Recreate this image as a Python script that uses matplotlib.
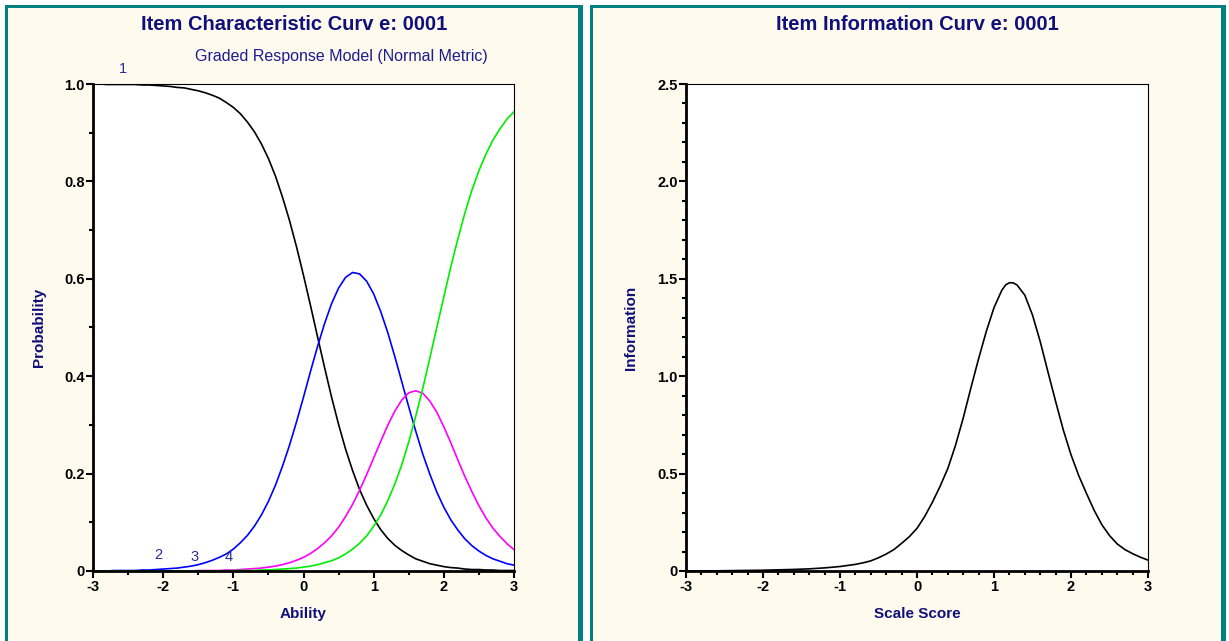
import numpy as np
import matplotlib
matplotlib.use("Agg")
import matplotlib.pyplot as plt
from matplotlib.patches import Rectangle
from matplotlib.ticker import MultipleLocator

# ability grid for the category curves (-3 .. 3, step 0.1)
theta = np.linspace(-3, 3, 61)

cat1 = [1.000, 1.000, 0.999, 0.999, 0.999, 0.999, 0.999, 0.998, 0.998, 0.997,
        0.996, 0.995, 0.993, 0.992, 0.989, 0.986, 0.982, 0.977, 0.971, 0.962,
        0.952, 0.939, 0.922, 0.902, 0.877, 0.847, 0.811, 0.768, 0.720, 0.666,
        0.607, 0.545, 0.481, 0.418, 0.357, 0.301, 0.250, 0.206, 0.167, 0.135,
        0.108, 0.085, 0.067, 0.053, 0.042, 0.033, 0.025, 0.020, 0.015, 0.012,
        0.009, 0.007, 0.006, 0.004, 0.003, 0.003, 0.002, 0.002, 0.001, 0.001,
        0.001]
cat2 = [0.000, 0.000, 0.000, 0.001, 0.001, 0.001, 0.001, 0.002, 0.002, 0.003,
        0.004, 0.005, 0.006, 0.008, 0.010, 0.013, 0.017, 0.022, 0.028, 0.035,
        0.045, 0.058, 0.073, 0.092, 0.115, 0.143, 0.176, 0.215, 0.258, 0.306,
        0.357, 0.410, 0.461, 0.508, 0.549, 0.581, 0.603, 0.613, 0.610, 0.595,
        0.569, 0.533, 0.490, 0.441, 0.389, 0.337, 0.287, 0.240, 0.199, 0.162,
        0.131, 0.105, 0.084, 0.066, 0.052, 0.041, 0.032, 0.025, 0.020, 0.015,
        0.012]
cat3 = [0.000, 0.000, 0.000, 0.000, 0.000, 0.000, 0.000, 0.000, 0.000, 0.000,
        0.000, 0.000, 0.000, 0.000, 0.000, 0.001, 0.001, 0.001, 0.001, 0.002,
        0.002, 0.003, 0.004, 0.005, 0.006, 0.008, 0.010, 0.013, 0.017, 0.022,
        0.028, 0.036, 0.046, 0.058, 0.072, 0.090, 0.112, 0.137, 0.166, 0.198,
        0.232, 0.266, 0.299, 0.328, 0.351, 0.366, 0.370, 0.365, 0.349, 0.326,
        0.296, 0.263, 0.228, 0.194, 0.163, 0.134, 0.109, 0.088, 0.071, 0.056,
        0.044]
cat4 = [0.000, 0.000, 0.000, 0.000, 0.000, 0.000, 0.000, 0.000, 0.000, 0.000,
        0.000, 0.000, 0.000, 0.000, 0.000, 0.000, 0.000, 0.000, 0.000, 0.000,
        0.001, 0.001, 0.001, 0.001, 0.002, 0.002, 0.003, 0.004, 0.005, 0.006,
        0.008, 0.010, 0.013, 0.017, 0.021, 0.027, 0.035, 0.045, 0.057, 0.072,
        0.092, 0.115, 0.144, 0.178, 0.218, 0.265, 0.318, 0.375, 0.437, 0.500,
        0.563, 0.625, 0.682, 0.735, 0.782, 0.822, 0.856, 0.885, 0.908, 0.928,
        0.943]
cat_colors = ["black", "#0000ff", "#ff00ff", "#00ee00"]
cat_labels = ["1", "2", "3", "4"]
label_pos = [(-2.57, 1.03), (-2.07, 0.033), (-1.56, 0.028), (-1.06, 0.028)]

info_x = [-3.0, -2.8, -2.6, -2.4, -2.2, -2.0, -1.8, -1.6, -1.4, -1.2, -1.0,
          -0.8, -0.7, -0.6, -0.5, -0.4, -0.3, -0.2, -0.1, 0.0, 0.1, 0.2, 0.3,
          0.4, 0.5, 0.6, 0.7, 0.8, 0.9, 1.0, 1.1, 1.15, 1.2, 1.25, 1.3, 1.4,
          1.5, 1.6, 1.7, 1.8, 1.9, 2.0, 2.1, 2.2, 2.3, 2.4, 2.5, 2.6, 2.7,
          2.8, 2.9, 3.0]
info_y = [0.000, 0.001, 0.001, 0.002, 0.003, 0.004, 0.006, 0.008, 0.011, 0.016,
          0.023, 0.034, 0.042, 0.052, 0.068, 0.087, 0.110, 0.142, 0.176, 0.219,
          0.280, 0.353, 0.435, 0.526, 0.645, 0.785, 0.940, 1.090, 1.230, 1.352,
          1.440, 1.468, 1.480, 1.479, 1.468, 1.416, 1.314, 1.178, 1.023, 0.871,
          0.724, 0.597, 0.490, 0.399, 0.312, 0.238, 0.182, 0.139, 0.110, 0.089,
          0.071, 0.056]

NAVY = "#10107a"
W, H = 1229, 641
plt.rcParams['font.family'] = ['Liberation Sans', 'DejaVu Sans']

fig = plt.figure(figsize=(W / 100, H / 100), dpi=100, facecolor="white")


def px_rect(x0, y0, x1, y1, color):
    fig.add_artist(Rectangle((x0 / W, 1 - y1 / H), (x1 - x0) / W, (y1 - y0) / H,
                             transform=fig.transFigure, facecolor=color,
                             edgecolor="none", zorder=-10))


# panels: cream fill with teal frame (thin top/left, thicker right)
for x0, x1 in [(5, 583), (590, 1226)]:
    px_rect(x0, 5, x1, H + 5, "#fffaee")
    px_rect(x0, 5, x1, 8, "#008080")
    px_rect(x0, 5, x0 + 3, H + 5, "#008080")
    px_rect(x1 - 5, 5, x1, H + 5, "#008080")


def style_axes(ax):
    ax.set_facecolor("white")
    for side in ["left", "bottom"]:
        ax.spines[side].set_linewidth(2)
    for side in ["top", "right"]:
        ax.spines[side].set_linewidth(0.8)
    ax.tick_params(which="both", direction="out", top=False, right=False, width=1.5)
    ax.tick_params(which="major", length=5, labelsize=10.5)
    ax.tick_params(axis="y", which="major", pad=1)
    ax.tick_params(axis="x", which="major", pad=1.5)
    ax.tick_params(which="minor", length=3)
    for lab in ax.get_xticklabels() + ax.get_yticklabels():
        lab.set_fontweight("bold")


# left: item characteristic curves
ax1 = fig.add_axes([93 / W, 1 - 571 / H, 421 / W, 487 / H])
for vals, col in zip([cat1, cat2, cat3, cat4], cat_colors):
    ax1.plot(theta, vals, color=col, lw=1.2)
ax1.set_xlim(-3, 3)
ax1.set_ylim(0, 1)
ax1.set_xticks([-3, -2, -1, 0, 1, 2, 3])
ax1.set_xticklabels(["-3", "-2", "-1", "0", "1", "2", "3"])
ax1.set_yticks([0, 0.2, 0.4, 0.6, 0.8, 1.0])
ax1.set_yticklabels(["0", "0.2", "0.4", "0.6", "0.8", "1.0"])
ax1.xaxis.set_minor_locator(MultipleLocator(0.5))
ax1.yaxis.set_minor_locator(MultipleLocator(0.1))
style_axes(ax1)
for lab, (lx, ly) in zip(cat_labels, label_pos):
    ax1.text(lx, ly, lab, color="#2a2a9a", fontsize=10.5, ha="center", va="center", clip_on=False)
ax1.set_xlabel("Ability", color=NAVY, fontweight="bold", fontsize=11)
ax1.set_ylabel("Probability", color=NAVY, fontweight="bold", fontsize=11)
ax1.xaxis.set_label_coords(0.5, -0.074)
ax1.yaxis.set_label_coords(-0.112, 0.5)
fig.text(294 / W, 1 - 24 / H, "Item Characteristic Curv e: 0001", color=NAVY,
         fontweight="bold", fontsize=14.5, ha="center", va="center")
fig.text(341 / W, 1 - 56 / H, "Graded Response Model (Normal Metric)", color="#1c1c90",
         fontsize=11.5, ha="center", va="center")

# right: item information curve
ax2 = fig.add_axes([686 / W, 1 - 571 / H, 462 / W, 487 / H])
ax2.plot(info_x, info_y, color="black", lw=1.2)
ax2.set_xlim(-3, 3)
ax2.set_ylim(0, 2.5)
ax2.set_xticks([-3, -2, -1, 0, 1, 2, 3])
ax2.set_xticklabels(["-3", "-2", "-1", "0", "1", "2", "3"])
ax2.set_yticks([0, 0.5, 1.0, 1.5, 2.0, 2.5])
ax2.set_yticklabels(["0", "0.5", "1.0", "1.5", "2.0", "2.5"])
ax2.xaxis.set_minor_locator(MultipleLocator(0.2))
ax2.yaxis.set_minor_locator(MultipleLocator(0.1))
style_axes(ax2)
ax2.set_xlabel("Scale Score", color=NAVY, fontweight="bold", fontsize=11)
ax2.set_ylabel("Information", color=NAVY, fontweight="bold", fontsize=11)
ax2.xaxis.set_label_coords(0.5, -0.074)
ax2.yaxis.set_label_coords(-0.104, 0.5)
fig.text(917 / W, 1 - 24 / H, "Item Information Curv e: 0001", color=NAVY,
         fontweight="bold", fontsize=14.5, ha="center", va="center")

fig.savefig("out.png", dpi=100, facecolor="white")
